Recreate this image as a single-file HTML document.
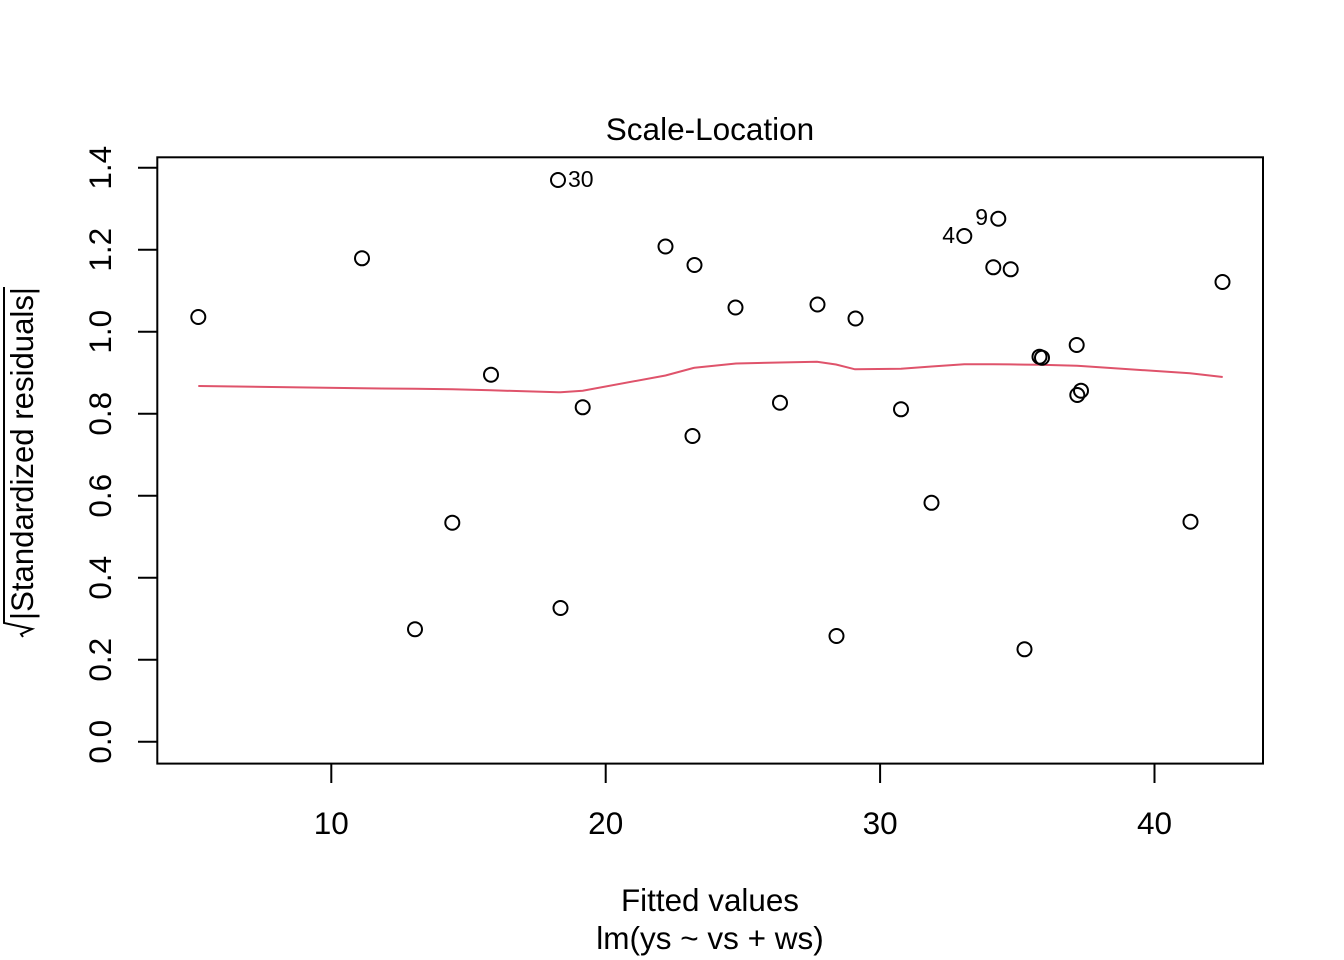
<!DOCTYPE html>
<html>
<head>
<meta charset="utf-8">
<style>
  html, body { margin:0; padding:0; background:#fff; }
  svg { display:block; }
  text { font-family: "Liberation Sans", Arial, Helvetica, sans-serif; fill:#000; }
</style>
</head>
<body>
<svg width="1344" height="960" viewBox="0 0 1344 960" xmlns="http://www.w3.org/2000/svg">
  <rect x="0" y="0" width="1344" height="960" fill="#ffffff"/>

  <!-- plot box -->
  <rect x="157.3" y="157.3" width="1105.7" height="606.3" fill="none" stroke="#000" stroke-width="2"/>

  <!-- x axis ticks -->
  <g stroke="#000" stroke-width="2">
    <line x1="331.3" y1="763.6" x2="331.3" y2="783"/>
    <line x1="605.7" y1="763.6" x2="605.7" y2="783"/>
    <line x1="880.1" y1="763.6" x2="880.1" y2="783"/>
    <line x1="1154.5" y1="763.6" x2="1154.5" y2="783"/>
  </g>
  <g font-size="31.5" text-anchor="middle">
    <text x="331.3" y="834">10</text>
    <text x="605.7" y="834">20</text>
    <text x="880.1" y="834">30</text>
    <text x="1154.5" y="834">40</text>
  </g>

  <!-- y axis ticks -->
  <g stroke="#000" stroke-width="2">
    <line x1="138" y1="741.7" x2="157.3" y2="741.7"/>
    <line x1="138" y1="659.7" x2="157.3" y2="659.7"/>
    <line x1="138" y1="577.7" x2="157.3" y2="577.7"/>
    <line x1="138" y1="495.7" x2="157.3" y2="495.7"/>
    <line x1="138" y1="413.7" x2="157.3" y2="413.7"/>
    <line x1="138" y1="331.7" x2="157.3" y2="331.7"/>
    <line x1="138" y1="249.7" x2="157.3" y2="249.7"/>
    <line x1="138" y1="167.7" x2="157.3" y2="167.7"/>
  </g>
  <g font-size="31.5" text-anchor="middle">
    <text transform="translate(111,741.7) rotate(-90)">0.0</text>
    <text transform="translate(111,659.7) rotate(-90)">0.2</text>
    <text transform="translate(111,577.7) rotate(-90)">0.4</text>
    <text transform="translate(111,495.7) rotate(-90)">0.6</text>
    <text transform="translate(111,413.7) rotate(-90)">0.8</text>
    <text transform="translate(111,331.7) rotate(-90)">1.0</text>
    <text transform="translate(111,249.7) rotate(-90)">1.2</text>
    <text transform="translate(111,167.7) rotate(-90)">1.4</text>
  </g>

  <!-- titles -->
  <text x="710" y="140" font-size="31.5" text-anchor="middle">Scale-Location</text>
  <text x="710" y="911" font-size="31.5" text-anchor="middle" textLength="178" lengthAdjust="spacingAndGlyphs">Fitted values</text>
  <text x="710" y="949" font-size="31.5" text-anchor="middle">lm(ys ~ vs + ws)</text>

  <!-- y label with sqrt and overline -->
  <g transform="translate(33,637) rotate(-90)">
    <path d="M0,-10 L3,-12 L8,-1 L14,-29 L350,-29" fill="none" stroke="#000" stroke-width="2"/>
    <text x="17" y="0" font-size="31.5" textLength="333" lengthAdjust="spacingAndGlyphs">|Standardized residuals|</text>
  </g>

  <!-- lowess line -->
  <polyline fill="none" stroke="#DF536B" stroke-width="2"
    points="198.3,386 362,388.3 415,388.8 452.3,389.3 491,390.3 558.3,392.3 560.5,392.2 582.7,390.7 665.5,375.5 693.3,368 694.5,367.8 736,363.5 780,362.5 817,361.7 836,364.5 855,369.3 901,368.7 931.5,366.5 964.3,364.3 993.3,364.3 1010,364.4 1024.5,364.6 1040,364.7 1077,365.8 1081,366 1190,373.3 1222.7,377"/>

  <!-- points -->
  <g fill="none" stroke="#000" stroke-width="2">
    <circle cx="198.3" cy="317" r="7"/>
    <circle cx="362" cy="258.3" r="7"/>
    <circle cx="415" cy="629.3" r="7"/>
    <circle cx="452.3" cy="522.7" r="7"/>
    <circle cx="491" cy="374.7" r="7"/>
    <circle cx="558" cy="180" r="7"/>
    <circle cx="560.5" cy="608" r="7"/>
    <circle cx="582.7" cy="407.3" r="7"/>
    <circle cx="665.5" cy="246.5" r="7"/>
    <circle cx="692.5" cy="436" r="7"/>
    <circle cx="694.5" cy="265" r="7"/>
    <circle cx="735.5" cy="307.5" r="7"/>
    <circle cx="780" cy="402.7" r="7"/>
    <circle cx="817.5" cy="304.5" r="7"/>
    <circle cx="836.5" cy="636" r="7"/>
    <circle cx="855.5" cy="318.5" r="7"/>
    <circle cx="901" cy="409.3" r="7"/>
    <circle cx="931.5" cy="502.8" r="7"/>
    <circle cx="964.3" cy="236" r="7"/>
    <circle cx="998.3" cy="218.7" r="7"/>
    <circle cx="993.3" cy="267.3" r="7"/>
    <circle cx="1010.7" cy="269.3" r="7"/>
    <circle cx="1024.5" cy="649.3" r="7"/>
    <circle cx="1039.5" cy="356.7" r="7"/>
    <circle cx="1042" cy="357.7" r="7"/>
    <circle cx="1076.7" cy="345" r="7"/>
    <circle cx="1077.3" cy="395" r="7"/>
    <circle cx="1081" cy="390.7" r="7"/>
    <circle cx="1190.5" cy="521.7" r="7"/>
    <circle cx="1222.5" cy="282" r="7"/>
  </g>

  <!-- point labels -->
  <g font-size="23">
    <text x="568" y="187">30</text>
    <text x="955" y="243" text-anchor="end">4</text>
    <text x="988" y="225" text-anchor="end">9</text>
  </g>
</svg>
</body>
</html>
